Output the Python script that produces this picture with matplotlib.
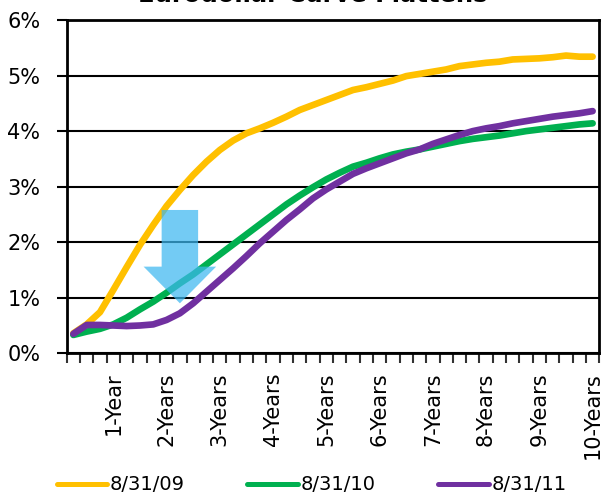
import numpy as np
import matplotlib
matplotlib.use("Agg")
import matplotlib.pyplot as plt
from matplotlib.patches import FancyArrow

# quarterly points out to 10 years
n_pts = 40
year_labels = ["1-Year", "2-Years", "3-Years", "4-Years", "5-Years",
               "6-Years", "7-Years", "8-Years", "9-Years", "10-Years"]

curve_09 = [0.36, 0.52, 0.74, 1.14, 1.55, 1.95, 2.31, 2.65, 2.94, 3.21,
            3.45, 3.66, 3.83, 3.96, 4.05, 4.15, 4.26, 4.38, 4.47, 4.56,
            4.65, 4.74, 4.79, 4.85, 4.91, 4.99, 5.03, 5.07, 5.11, 5.17,
            5.20, 5.23, 5.25, 5.29, 5.30, 5.31, 5.33, 5.36, 5.34, 5.34]
curve_10 = [0.33, 0.39, 0.44, 0.52, 0.64, 0.79, 0.93, 1.09, 1.26, 1.42,
            1.60, 1.78, 1.96, 2.14, 2.32, 2.50, 2.68, 2.84, 2.99, 3.13,
            3.25, 3.36, 3.43, 3.51, 3.58, 3.63, 3.67, 3.72, 3.77, 3.82,
            3.86, 3.89, 3.92, 3.96, 4.00, 4.03, 4.06, 4.09, 4.12, 4.14]
curve_11 = [0.35, 0.51, 0.51, 0.50, 0.49, 0.50, 0.52, 0.60, 0.72, 0.90,
            1.11, 1.32, 1.53, 1.75, 1.98, 2.19, 2.40, 2.59, 2.79, 2.95,
            3.09, 3.23, 3.33, 3.42, 3.51, 3.60, 3.67, 3.77, 3.85, 3.93,
            4.00, 4.05, 4.09, 4.14, 4.18, 4.22, 4.26, 4.29, 4.32, 4.36]

fig = plt.figure(figsize=(6.02, 4.98), dpi=100)
ax = fig.add_axes([0.1108, 0.2906, 0.8847, 0.6692])

x = np.arange(n_pts)
ax.plot(x, curve_09, color="#FFC000", lw=4.8, solid_capstyle="round", label="8/31/09", zorder=3)
ax.plot(x, curve_10, color="#00B050", lw=4.8, solid_capstyle="round", label="8/31/10", zorder=4)
ax.plot(x, curve_11, color="#7030A0", lw=4.8, solid_capstyle="round", label="8/31/11", zorder=5)

# the big blue "flattening" arrow
arrow = FancyArrow(8.0, 2.58, 0, -1.68, width=2.74, head_width=5.45,
                   head_length=0.66, length_includes_head=True,
                   color="#3DB8F0", alpha=0.72, lw=0, zorder=6)
ax.add_patch(arrow)

ax.set_xlim(-0.5, n_pts - 0.5)
ax.set_ylim(0, 6)
ax.set_yticks(range(7))
ax.set_yticklabels(["{}%".format(v) for v in range(7)], fontsize=15)
ax.yaxis.grid(True, color="black", lw=1.5)
ax.set_axisbelow(True)

ax.set_xticks(np.arange(-0.5, n_pts, 1.0))
ax.set_xticklabels([])
ax.set_xticks(np.arange(3, n_pts, 4), minor=True)
ax.set_xticklabels(year_labels, minor=True, rotation=90, fontsize=15)
ax.tick_params(axis="x", which="major", length=7, width=1.5, color="#333333")
ax.tick_params(axis="x", which="minor", length=0, pad=14)
ax.tick_params(axis="y", length=7, width=1.5, pad=12)

for s in ax.spines.values():
    s.set_linewidth(2)
    s.set_color("black")

# title sits mostly above the top edge, as in the original crop
fig.text(0.52, 0.995, "Eurodollar Curve Flattens", ha="center", va="baseline",
         fontsize=17.5, fontweight="bold")

leg = fig.legend(loc="lower left", bbox_to_anchor=(0.065, -0.028), ncol=3,
                 frameon=False, fontsize=14, handlelength=2.6,
                 handletextpad=0.15, columnspacing=3.2)
for h in leg.get_lines():
    h.set_linewidth(3.6)

fig.savefig("out.png", dpi=100)
